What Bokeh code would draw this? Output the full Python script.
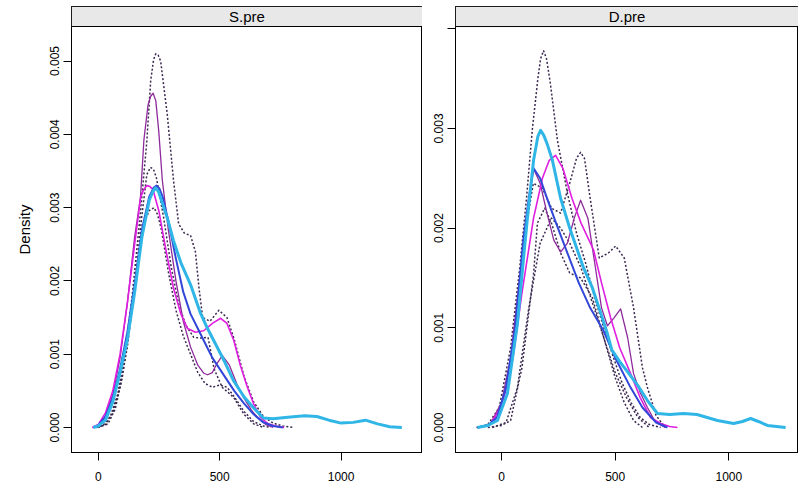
from bokeh.plotting import figure
from bokeh.layouts import row
from bokeh.models import Range1d, FixedTicker, BoxAnnotation, Label, NumeralTickFormatter
from bokeh.embed import file_html
from bokeh.resources import INLINE

# ---------------- data: panel S.pre ----------------
s_cyan_x = [-20, 0, 30, 60, 90, 120, 150, 180, 210, 225, 236, 248, 260, 285, 310, 340, 380, 421, 450, 475, 520, 557, 600, 639, 680, 720, 780, 850, 900, 950, 1000, 1050, 1100, 1150, 1200, 1250]
s_cyan_y = [0, 0.00002, 0.0001, 0.00035, 0.00075, 0.0012, 0.00185, 0.0026, 0.0031, 0.00322, 0.00327, 0.00322, 0.0031, 0.00285, 0.00255, 0.00225, 0.00195, 0.00156, 0.00135, 0.00119, 0.0009, 0.00064, 0.00042, 0.00027, 0.00013, 0.00012, 0.00014, 0.00016, 0.00015, 0.0001, 0.00006, 0.00007, 0.0001, 0.00005, 0.00001, 0]

s_blue_x = [-20, 0, 30, 60, 90, 120, 150, 180, 210, 228, 240, 252, 265, 290, 320, 350, 380, 410, 440, 470, 500, 530, 560, 600, 640, 680, 720, 760]
s_blue_y = [0, 0.00003, 0.00015, 0.0004, 0.0008, 0.0013, 0.00195, 0.0027, 0.00315, 0.00327, 0.0033, 0.00326, 0.00315, 0.0028, 0.0023, 0.00185, 0.00155, 0.00135, 0.00115, 0.00095, 0.0008, 0.00065, 0.0005, 0.00033, 0.00018, 0.00007, 0.00002, 0]

s_mag_x = [-25, 0, 30, 60, 90, 120, 150, 175, 188, 200, 212, 225, 250, 280, 310, 340, 368, 400, 434, 470, 504, 530, 558, 585, 614, 640, 668, 700, 730, 765]
s_mag_y = [0, 0.00004, 0.0002, 0.0005, 0.001, 0.0017, 0.0025, 0.00315, 0.00325, 0.0033, 0.00329, 0.00325, 0.00295, 0.0024, 0.0019, 0.00155, 0.00135, 0.0013, 0.00132, 0.00142, 0.00149, 0.00142, 0.00119, 0.00085, 0.00055, 0.00032, 0.00014, 0.00005, 0.00002, 0]

s_pur_x = [-20, 0, 30, 60, 90, 120, 150, 174, 188, 205, 216, 226, 237, 249, 264, 289, 320, 350, 380, 410, 435, 450, 470, 490, 511, 540, 570, 600, 630, 655, 690, 720]
s_pur_y = [0, 0.00002, 0.00015, 0.00045, 0.00095, 0.0017, 0.0026, 0.00314, 0.00392, 0.0044, 0.00452, 0.00456, 0.00446, 0.00405, 0.00337, 0.00269, 0.002, 0.00145, 0.0011, 0.00085, 0.00074, 0.00072, 0.00075, 0.00088, 0.00098, 0.00085, 0.0006, 0.0004, 0.00024, 0.00014, 0.00004, 0]

s_dot1_x = [-10, 20, 50, 80, 110, 140, 170, 200, 216, 228, 237, 247, 257, 284, 310, 331, 355, 380, 400, 415, 430, 460, 497, 530, 560, 600, 640, 680, 720, 760, 804]
s_dot1_y = [0, 0.00003, 0.00015, 0.00045, 0.001, 0.0018, 0.0028, 0.0039, 0.00473, 0.00502, 0.0051, 0.00508, 0.005, 0.00428, 0.00337, 0.00278, 0.00265, 0.00262, 0.0024, 0.0019, 0.0015, 0.00145, 0.0016, 0.0015, 0.0012, 0.0007, 0.00035, 0.00015, 0.00006, 0.00002, 0]

s_dot2_x = [-5, 30, 60, 90, 120, 150, 180, 200, 215, 228, 240, 270, 300, 330, 360, 393, 420, 452, 477, 510, 558, 600, 640, 680]
s_dot2_y = [0, 0.00004, 0.0002, 0.00055, 0.0011, 0.0019, 0.0029, 0.00345, 0.00355, 0.00352, 0.0034, 0.00285, 0.0022, 0.0017, 0.0014, 0.00123, 0.00122, 0.00123, 0.0008, 0.00055, 0.00041, 0.00018, 0.00005, 0]

s_dot3_x = [0, 40, 70, 100, 130, 160, 190, 210, 230, 245, 260, 290, 320, 350, 380, 410, 440, 470, 500, 530, 560, 600, 640, 680, 710]
s_dot3_y = [0, 0.00005, 0.00025, 0.0007, 0.0014, 0.0022, 0.0028, 0.00296, 0.003, 0.0029, 0.0027, 0.0021, 0.0016, 0.00125, 0.001, 0.00075, 0.0006, 0.00055, 0.00058, 0.00055, 0.00042, 0.00022, 0.00008, 0.00002, 0]

# ---------------- data: panel D.pre ----------------
d_cyan_x = [-106, -60, -18, 26, 70, 97, 114, 141, 160, 172, 186, 200, 224, 260, 300, 361, 400, 436, 466, 485, 520, 554, 600, 642, 686, 740, 801, 860, 950, 1021, 1060, 1096, 1130, 1170, 1210, 1250]
d_cyan_y = [0, 0.00002, 0.00007, 0.00034, 0.00104, 0.0017, 0.0021, 0.00268, 0.00292, 0.00298, 0.00293, 0.00285, 0.00268, 0.0023, 0.002, 0.0016, 0.0014, 0.00115, 0.00094, 0.00078, 0.00066, 0.00056, 0.00042, 0.00027, 0.00014, 0.00013, 0.00014, 0.00013, 0.00007, 0.00004, 0.00006, 0.00009, 0.00006, 0.00002, 0.00001, 0]

d_blue_x = [-106, -60, -20, 20, 60, 97, 120, 141, 170, 200, 240, 290, 340, 390, 449, 500, 568, 620, 680, 730]
d_blue_y = [0, 0.00002, 0.0001, 0.0004, 0.001, 0.0019, 0.0023, 0.0026, 0.0025, 0.0023, 0.00205, 0.00175, 0.00145, 0.0012, 0.00097, 0.0007, 0.0004, 0.0002, 0.00005, 0]

d_mag_x = [-100, -50, -4, 30, 53, 90, 141, 180, 210, 238, 270, 310, 350, 405, 440, 480, 520, 568, 610, 656, 700, 740, 774]
d_mag_y = [0, 0.00003, 0.0002, 0.00045, 0.00074, 0.00135, 0.0021, 0.0025, 0.00268, 0.00273, 0.0026, 0.0023, 0.00205, 0.00178, 0.00145, 0.0011, 0.0008, 0.00054, 0.0003, 0.0001, 0.00004, 0.00001, 0]

d_pur_x = [-100, -50, 0, 40, 80, 110, 140, 170, 200, 230, 260, 290, 320, 348, 380, 410, 440, 466, 495, 524, 555, 581, 610, 642, 675, 720]
d_pur_y = [0, 0.00003, 0.00025, 0.0007, 0.0015, 0.0021, 0.0026, 0.00245, 0.00215, 0.00188, 0.00176, 0.00185, 0.0021, 0.00228, 0.0021, 0.00165, 0.0012, 0.00102, 0.0011, 0.00119, 0.0009, 0.00054, 0.00035, 0.0002, 0.00006, 0]

d_dot1_x = [-110, -60, -10, 40, 80, 110, 136, 160, 172, 185, 198, 215, 246, 290, 330, 370, 410, 450, 490, 530, 570, 610, 650, 700]
d_dot1_y = [0, 0.00003, 0.0002, 0.0008, 0.0016, 0.0023, 0.003, 0.0035, 0.0037, 0.00378, 0.0037, 0.00345, 0.00288, 0.00235, 0.00195, 0.00165, 0.0013, 0.001, 0.00072, 0.00045, 0.00025, 0.0001, 0.00003, 0]

d_dot2_x = [-100, -50, 0, 50, 100, 140, 180, 220, 260, 300, 330, 348, 365, 390, 430, 470, 502, 540, 581, 620, 642, 680, 720]
d_dot2_y = [0, 0.00003, 0.0002, 0.0008, 0.0019, 0.00245, 0.0024, 0.0022, 0.00215, 0.00245, 0.0027, 0.00276, 0.0027, 0.0023, 0.0017, 0.00175, 0.00182, 0.0017, 0.0012, 0.0006, 0.0004, 0.00012, 0]

d_dot3_x = [-60, 0, 40, 90, 141, 158, 190, 220, 260, 300, 348, 400, 450, 500, 540, 581, 620]
d_dot3_y = [0, 0.00002, 0.00007, 0.0006, 0.00154, 0.00205, 0.0022, 0.00205, 0.00175, 0.00155, 0.0015, 0.0013, 0.0009, 0.0005, 0.00025, 0.00007, 0]

d_dot4_x = [-40, 20, 70, 120, 170, 220, 260, 300, 350, 400, 450, 500, 550, 600, 650]
d_dot4_y = [0, 0.00005, 0.0004, 0.0012, 0.00185, 0.0021, 0.002, 0.00185, 0.0016, 0.00125, 0.0009, 0.00055, 0.0003, 0.0001, 0]

# ---------------- axis ticks ----------------
x_ticks = [0, 500, 1000]
x_tick_labels = ["0", "500", "1000"]
s_y_ticks = [0.0, 0.001, 0.002, 0.003, 0.004, 0.005]
s_y_tick_labels = ["0.000", "0.001", "0.002", "0.003", "0.004", "0.005"]
d_y_ticks = [0.0, 0.001, 0.002, 0.003, 0.004]
d_y_tick_labels = ["0.000", "0.001", "0.002", "0.003", ""]

FONT = "Liberation Sans"
DOT = "#3a2850"
CYAN = "#2fb6e6"
BLUE = "#3247d8"
MAG = "#e01ee0"
PUR = "#8e2a9c"


def make_panel(title, width, border_left, xr, yr, strip_bottom, y_ticks, y_labels, curves, ylabel=None):
    p = figure(width=width, height=486, x_range=Range1d(*xr), y_range=Range1d(*yr),
               output_backend="svg", toolbar_location=None,
               min_border_left=border_left, min_border_right=0,
               min_border_top=6, min_border_bottom=34)
    p.background_fill_color = "white"
    p.border_fill_color = "white"
    p.outline_line_color = "black"
    p.outline_line_width = 1
    p.xgrid.visible = False
    p.ygrid.visible = False

    for xs, ys, color, lw, dash in curves:
        p.line(xs, ys, line_color=color, line_width=lw, line_dash=dash, line_join="round")

    # strip
    p.add_layout(BoxAnnotation(bottom=strip_bottom, fill_color="#e8e8e8", fill_alpha=1.0,
                               line_color="black", line_width=1, line_alpha=1.0))
    p.add_layout(Label(x=(xr[0] + xr[1]) / 2, y=(strip_bottom + yr[1]) / 2, text=title,
                       text_align="center", text_baseline="middle",
                       text_font=FONT, text_font_size="15px", text_color="black"))

    for ax in (p.xaxis[0], p.yaxis[0]):
        ax.axis_line_color = "black"
        ax.major_tick_line_color = "black"
        ax.major_tick_in = 0
        ax.major_tick_out = 8
        ax.minor_tick_in = 0
        ax.minor_tick_out = 0
        ax.major_label_text_font = FONT
        ax.major_label_text_font_size = "12px"
        ax.major_label_text_color = "black"

    p.xaxis.ticker = FixedTicker(ticks=x_ticks)
    p.xaxis.major_label_overrides = {t: l for t, l in zip(x_ticks, x_tick_labels)}
    p.xaxis.major_label_standoff = 11

    p.yaxis.ticker = FixedTicker(ticks=y_ticks)
    p.yaxis.formatter = NumeralTickFormatter(format="0.000")
    p.yaxis.major_label_overrides = {t: l for t, l in zip(y_ticks, y_labels)}
    p.yaxis.major_label_orientation = "vertical"
    p.yaxis.major_label_standoff = 4
    if ylabel:
        p.yaxis.axis_label = ylabel
        p.yaxis.axis_label_text_font = FONT
        p.yaxis.axis_label_text_font_size = "15px"
        p.yaxis.axis_label_text_font_style = "normal"
        p.yaxis.axis_label_text_color = "black"
        p.yaxis.axis_label_standoff = 15
    return p


s_curves = [
    (s_dot1_x, s_dot1_y, DOT, 1.5, "2 2"),
    (s_dot2_x, s_dot2_y, DOT, 1.5, "2 2"),
    (s_dot3_x, s_dot3_y, DOT, 1.5, "2 2"),
    (s_pur_x, s_pur_y, PUR, 1.3, "solid"),
    (s_mag_x, s_mag_y, MAG, 1.6, "solid"),
    (s_blue_x, s_blue_y, BLUE, 2.0, "solid"),
    (s_cyan_x, s_cyan_y, CYAN, 3.0, "solid"),
]
d_curves = [
    (d_dot1_x, d_dot1_y, DOT, 1.5, "2 2"),
    (d_dot2_x, d_dot2_y, DOT, 1.5, "2 2"),
    (d_dot3_x, d_dot3_y, DOT, 1.5, "2 2"),
    (d_dot4_x, d_dot4_y, DOT, 1.5, "2 2"),
    (d_pur_x, d_pur_y, PUR, 1.3, "solid"),
    (d_mag_x, d_mag_y, MAG, 1.6, "solid"),
    (d_blue_x, d_blue_y, BLUE, 2.0, "solid"),
    (d_cyan_x, d_cyan_y, CYAN, 3.0, "solid"),
]

p1 = make_panel("S.pre", 422, 71, (-110, 1335), (-0.000341, 0.005744), 0.005471,
                s_y_ticks, s_y_tick_labels, s_curves, ylabel="Density")
p2 = make_panel("D.pre", 376, 33, (-202.4, 1306.6), (-0.000251, 0.004223), 0.004022,
                d_y_ticks, d_y_tick_labels, d_curves)

layout = row(p1, p2)
open("out.html", "w").write(file_html(layout, INLINE))
